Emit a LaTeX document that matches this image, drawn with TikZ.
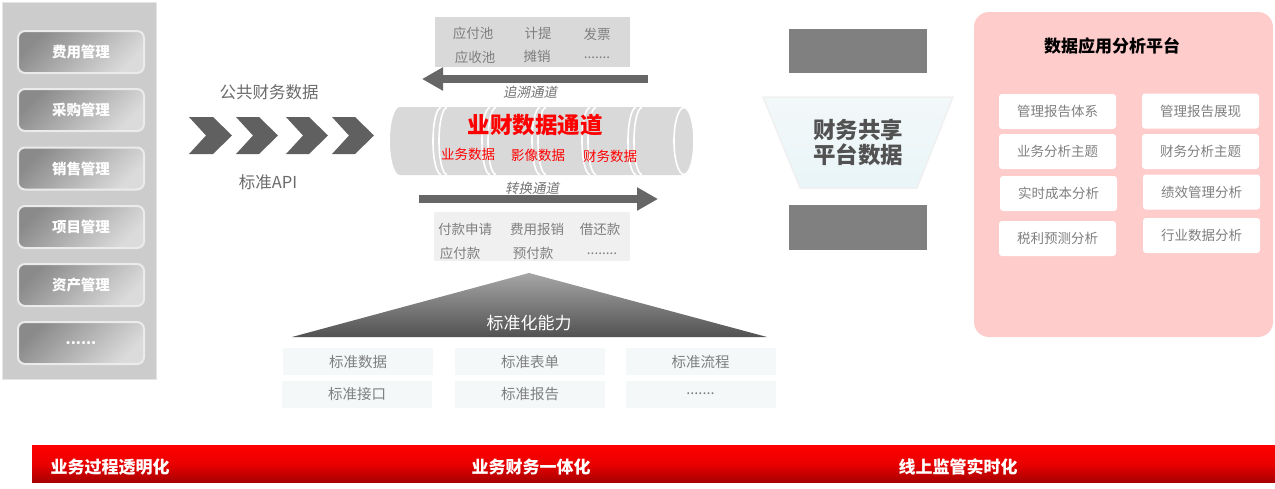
\documentclass[tikz,border=0pt]{standalone}
\usepackage{fontspec}
\setmainfont{Noto Sans CJK SC}
\newfontfamily\cjkslant[FakeSlant=0.2]{Noto Sans CJK SC}
\usetikzlibrary{arrows.meta}
\newcommand\myfs[1]{\fontsize{#1}{#1}\selectfont}
\definecolor{txtgray}{HTML}{7F7F7F}
\definecolor{darkg}{HTML}{606060}
\definecolor{pipeg}{HTML}{D9D9D9}
\definecolor{pinkbg}{HTML}{FFCCCC}
\definecolor{stdbg}{HTML}{F4F8F9}
\definecolor{mybarred}{HTML}{FF0000}
\definecolor{mybardark}{HTML}{A80000}
\definecolor{trapa}{HTML}{F3F8F9}
\definecolor{trapb}{HTML}{E9F5F8}
\tikzset{
  btn/.style={rounded corners=7pt, draw=white!92!black, line width=2pt,
    top color=black!46, bottom color=black!14, shading angle=45,
    minimum width=126pt, minimum height=42pt, text=white, inner sep=0pt,
    font=\bfseries\myfs{14.5}},
  graytxt/.style={text=txtgray, inner sep=0pt, font=\myfs{13.5}},
  stdbox/.style={fill=stdbg, minimum width=150pt, minimum height=27pt, inner sep=0pt,
    text=txtgray, font=\myfs{14.5}},
  appbox/.style={fill=white, rounded corners=3pt, minimum width=117pt, minimum height=35pt,
    inner sep=0pt, text=txtgray, font=\myfs{13.5}},
  chev/.style={fill=darkg},
  bigarrow/.style={draw=black!60, line width=8pt, -{Triangle[length=21pt,width=22pt]}},
  ring/.style={draw=white, line width=1.6pt},
  bartxt/.style={text=white, font=\bfseries\myfs{17}, inner sep=0pt},
}
\begin{document}
\begin{tikzpicture}[x=1pt,y=-1pt]
\useasboundingbox (0,0) rectangle (1275,488);
% left panel
\node[fill=black!20, draw=black!10, line width=1pt, minimum width=154pt, minimum height=377pt, inner sep=0pt] (lp) at (79.5,190.5) {};
\node[btn] (b1) at (81,52) {费用管理};
\node[btn] (b2) at (81,110) {采购管理};
\node[btn] (b3) at (81,168.5) {销售管理};
\node[btn] (b4) at (81,227) {项目管理};
\node[btn] (b5) at (81,285) {资产管理};
\node[btn] (b6) at (81,343) {......};
% labels & chevrons
\node[text=black!58, inner sep=0pt, font=\myfs{16.5}] (pub) at (269,92) {公共财务数据};
\node[text=black!58, inner sep=0pt, font=\myfs{16.5}] (api) at (268,182) {标准API};
\foreach \a/\b in {189/232, 236/278, 286/328, 332/374}{
  \fill[chev] (\a,117) -- (\b-19,117) -- (\b,135.5) -- (\b-19,154) -- (\a,154) -- (\a+17,135.5) -- cycle;
}
% top box
\node[fill=pipeg, minimum width=195pt, minimum height=50pt, inner sep=0pt] (tb) at (532.5,42) {};
\node[graytxt] (t1) at (473,33) {应付池};
\node[graytxt] (t2) at (538,33) {计提};
\node[graytxt] (t3) at (597,34) {发票};
\node[graytxt] (t4) at (475,57) {应收池};
\node[graytxt] (t5) at (537,56) {摊销};
\node[graytxt] (t6) at (597,58) {.......};
% left arrow
\coordinate (la1) at (648,79);
\coordinate (la2) at (422,79);
\draw[bigarrow] (la1) -- (la2);
\node[text=black!55, inner sep=0pt, font=\cjkslant\myfs{13.5}] (zs) at (530,92) {追溯通道};
% pipe
\fill[pipeg] (400,107) -- (684,107) arc[start angle=270, end angle=450, x radius=10, y radius=34]
  -- (400,175) arc[start angle=90, end angle=270, x radius=10, y radius=34] -- cycle;
\foreach \c in {441,447,490,496,540,546,590,596,636,642}{
  \draw[ring] (\c,107.5) arc[start angle=270, end angle=90, x radius=8, y radius=33.5];
}
\draw[ring] (684,141) ellipse[x radius=10, y radius=33.5];
\node[text=red, inner sep=0pt, font=\bfseries\myfs{22.5}] (pt) at (535,125) {业财数据通道};
\node[text=red, inner sep=0pt, font=\myfs{13.5}] (p1) at (468,154) {业务数据};
\node[text=red, inner sep=0pt, font=\myfs{13.5}] (p2) at (538,155) {影像数据};
\node[text=red, inner sep=0pt, font=\myfs{13.5}] (p3) at (610,156) {财务数据};
% right arrow
\node[text=black!55, inner sep=0pt, font=\cjkslant\myfs{13.5}] (zh) at (532,188) {转换通道};
\coordinate (ra1) at (419,199);
\coordinate (ra2) at (658,199);
\draw[bigarrow] (ra1) -- (ra2);
% bottom box
\node[fill=black!6, minimum width=196pt, minimum height=49pt, inner sep=0pt] (bb) at (532,236.5) {};
\node[graytxt] (u1) at (465,229) {付款申请};
\node[graytxt] (u2) at (537,229) {费用报销};
\node[graytxt] (u3) at (600,229) {借还款};
\node[graytxt] (u4) at (460,253) {应付款};
\node[graytxt] (u5) at (533,253) {预付款};
\node[graytxt] (u6) at (602,254) {........};
% triangle
\shade[top color=black!35, bottom color=black!68] (529,273) -- (767,337) -- (292,337) -- cycle;
\node[text=white, inner sep=0pt, font=\myfs{17}] (tri) at (529,323) {标准化能力};
% standard boxes
\node[stdbox] (s1) at (358,361.5) {标准数据};
\node[stdbox] (s2) at (530,361.5) {标准表单};
\node[stdbox] (s3) at (700.5,361.5) {标准流程};
\node[stdbox] (s4) at (357,394) {标准接口};
\node[stdbox] (s5) at (530,394) {标准报告};
\node[stdbox] (s6) at (700.5,394) {.......};
% dark rects and trapezoid
\node[fill=black!50, minimum width=138pt, minimum height=44pt, inner sep=0pt] (g1) at (858,51) {};
\node[fill=black!50, minimum width=138pt, minimum height=45pt, inner sep=0pt] (g2) at (858,227.5) {};
\shade[top color=trapa, bottom color=trapb, draw=black!6, line width=1.5pt] (763,97) -- (953,97) -- (917,188) -- (800,188) -- cycle;
\node[text=black!68, inner sep=0pt, align=center, font=\bfseries\myfs{22.5}] (fs) at (858,142.5) {财务共享\\[3pt]平台数据};
% pink panel
\node[fill=pinkbg, rounded corners=15pt, minimum width=299pt, minimum height=325pt, inner sep=0pt] (pp) at (1123.5,174.5) {};
\node[text=black, inner sep=0pt, font=\bfseries\myfs{17}] (ptitle) at (1112,46) {数据应用分析平台};
\node[appbox] (a1) at (1057.5,111.5) {管理报告体系};
\node[appbox] (a2) at (1200.5,111) {管理报告展现};
\node[appbox] (a3) at (1057.5,151.5) {业务分析主题};
\node[appbox] (a4) at (1200.5,151.5) {财务分析主题};
\node[appbox] (a5) at (1058.5,193.5) {实时成本分析};
\node[appbox] (a6) at (1201.5,192) {绩效管理分析};
\node[appbox] (a7) at (1057.5,238.5) {税利预测分析};
\node[appbox] (a8) at (1201.5,235.5) {行业数据分析};
% bottom bar
\shade[top color=mybarred, bottom color=mybardark, middle color=red!92!black] (32,445) rectangle (1275,482);
\node[bartxt] (bt1) at (110,467) {业务过程透明化};
\node[bartxt] (bt2) at (531,467) {业务财务一体化};
\node[bartxt] (bt3) at (958,467) {线上监管实时化};
\end{tikzpicture}
\end{document}
